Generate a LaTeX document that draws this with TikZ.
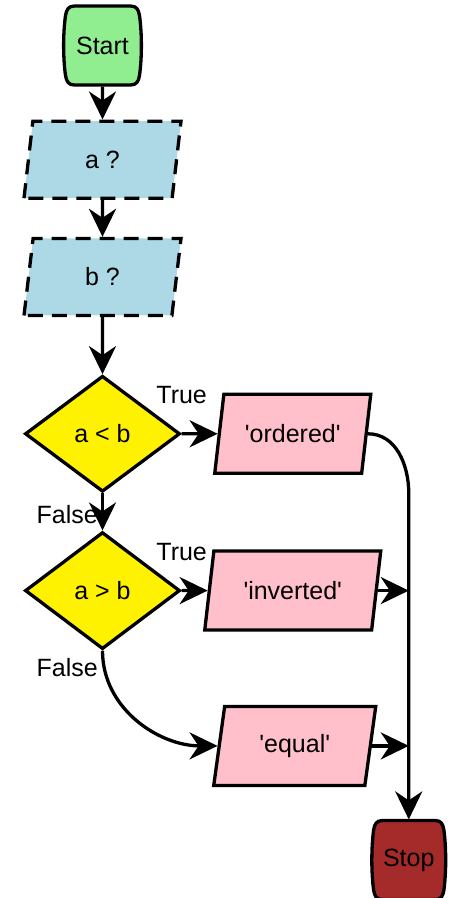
\documentclass[tikz,border=0pt]{standalone}
\usepackage{fontspec}
\setmainfont{Liberation Sans}
\usetikzlibrary{shapes.geometric,positioning,calc,arrows.meta}

\definecolor{startgreen}{HTML}{90EE90}
\definecolor{inblue}{HTML}{ADD8E6}
\definecolor{outpink}{HTML}{FFC0CB}
\definecolor{stopbrown}{HTML}{A52A2A}

\begin{document}
\begin{tikzpicture}[x=1pt, y=1pt, line width=3.3pt,
        font=\fontsize{25}{29}\selectfont,
        terminal/.style={rectangle, minimum width=72pt, minimum height=79pt, inner sep=0pt},
        inbox/.style={draw, trapezium, trapezium left angle=70, trapezium right angle=110, trapezium stretches body, minimum width=157pt, minimum height=77pt, fill=inblue, dash pattern=on 15pt off 9pt},
        outbox/.style={draw, trapezium, trapezium left angle=70, trapezium right angle=110, trapezium stretches body, minimum height=79pt, fill=outpink},
        test/.style={draw, diamond, minimum width=155pt, minimum height=116pt, fill=yellow, inner sep=0pt},
        lbl/.style={inner sep=1pt},
        >={Stealth[length=28pt, width=27pt, inset=9pt]}
    ]
        \useasboundingbox (0,0) rectangle (449,-898);
        \coordinate (startc) at (102.5,-45.5);
        \node [inbox, below=74pt of startc] (a) {a ?};
        \node [inbox, below=37pt of a] (b) {b ?};
        \node [test, below=57pt of b] (lt) {a < b};
        \node [test, minimum height=117pt, below=37pt of lt] (gt) {a > b};
        \node [outbox, minimum width=156pt, right=36pt of lt] (ordered) {\textquotesingle ordered\textquotesingle};
        \node [outbox, minimum width=176pt, right=26pt of gt] (inverted) {\textquotesingle inverted\textquotesingle};
        \node [outbox, minimum width=162pt, below=73pt of inverted, xshift=2pt] (equal) {\textquotesingle equal\textquotesingle};
        \coordinate [below=73pt of equal, xshift=114pt] (stopc);

        % barrel outlines for start and stop
        \foreach \n/\c/\w in {startc/startgreen/1, stopc/stopbrown/0.95}
            \draw [fill=\c, shift={(\n)}, xscale=\w]
                (-28,39.5) -- (28,39.5) .. controls (34,39.5) and (36,36) .. (37,30)
                .. controls (39.5,12) and (39.5,-12) .. (37,-30)
                .. controls (36,-36) and (34,-39.5) .. (28,-39.5) -- (-28,-39.5)
                .. controls (-34,-39.5) and (-36,-36) .. (-37,-30)
                .. controls (-39.5,-12) and (-39.5,12) .. (-37,30)
                .. controls (-36,36) and (-34,39.5) .. cycle;
        \node [terminal] (start) at (startc) {Start};
        \node [terminal, minimum width=66pt, minimum height=78pt] (stop) at (stopc) {Stop};

        \coordinate (bend) at (stop.north |- lt.south);
        \coordinate (jinv) at (inverted.0 -| stop.north);
        \coordinate (jeq) at (equal.0 -| stop.north);

        \draw [->] (start) -- (a);
        \draw [->] (a) -- (b);
        \draw [->] (b) -- (lt);
        \draw [->] (lt.east) -- (ordered) node [lbl, at start, above=27pt] {True};
        \draw [->] (lt.south) -- (gt.north) node [lbl, midway, left, xshift=-2pt, yshift=-3pt] {False};
        \draw [->] (gt.east) -- (inverted) node [lbl, at start, above=27pt] {True};
        \draw [->] (gt.south) to [out=-90, in=180] node [lbl, at start, left, xshift=-2pt, yshift=-17pt] {False} (equal.180);
        \draw [->] (ordered.0) to [out=0, in=90] (bend) -- (stop.north);
        \draw [->] (inverted.0) -- (jinv);
        \draw [->] (equal.0) -- (jeq);
    \end{tikzpicture}
\end{document}
